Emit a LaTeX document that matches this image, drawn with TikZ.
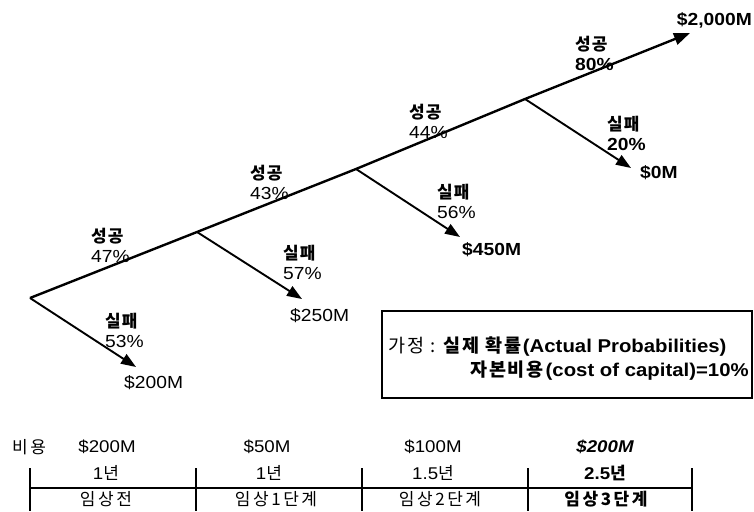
\documentclass[tikz,border=0pt]{standalone}
\usepackage{fontspec}
\setmainfont{Liberation Sans}[FakeStretch=1.1]
\newfontfamily\kr{Noto Sans CJK KR}[Scale=0.97,LetterSpace=6]
\newfontfamily\krbox{Noto Sans CJK KR}[LetterSpace=10]
\newfontfamily\krtab{Noto Sans CJK KR}[LetterSpace=15]
\usetikzlibrary{arrows.meta}
\tikzset{
  branch/.style={line width=2.4pt},
  fail/.style={line width=1.9pt,-{Triangle[length=15pt,width=11pt]}},
  lbl/.style={anchor=west,inner sep=0pt,align=left,font=\fontsize{17.5}{20}\selectfont},
  val/.style={anchor=west,inner sep=0pt,font=\fontsize{17.5}{20}\selectfont},
  boxtext/.style={anchor=west,inner sep=0pt,font=\fontsize{18.5}{20}\selectfont},
  ctr/.style={inner sep=0pt,font=\fontsize{17}{20}\selectfont},
  tick/.style={line width=1.8pt},
  boxline/.style={line width=2.2pt}
}
\begin{document}
\begin{tikzpicture}[x=1pt,y=-1pt]
\useasboundingbox (0,0) rectangle (754,511);
% tree points
\coordinate (s0) at (30,298);
\coordinate (b1) at (197,232);
\coordinate (b2) at (356,169);
\coordinate (b3) at (525,99);
\coordinate (e)  at (690,33);
\coordinate (f0) at (136,367);
\coordinate (f1) at (302,299);
\coordinate (f2) at (460,237);
\coordinate (f3) at (631,168);
\draw[branch,-{Triangle[length=16pt,width=12pt]}] (s0) -- (b1) -- (b2) -- (b3) -- (e);
\draw[fail] (s0) -- (f0);
\draw[fail] (b1) -- (f1);
\draw[fail] (b2) -- (f2);
\draw[fail] (b3) -- (f3);
% labels
\node[val,anchor=east] (v2000) at (752,20) {\bfseries \$2,000M};
\node[lbl] (l80) at (575,53) {{\kr\bfseries 성공}\\\bfseries 80\%};
\node[lbl] (l20) at (607,133) {{\kr\bfseries 실패}\\\bfseries 20\%};
\node[val] (v0) at (640,173) {\bfseries \$0M};
\node[lbl] (l44) at (409,121) {{\kr\bfseries 성공}\\44\%};
\node[lbl] (l56) at (437,201) {{\kr\bfseries 실패}\\56\%};
\node[val] (v450) at (462,250) {\bfseries \$450M};
\node[lbl] (l43) at (250,182) {{\kr\bfseries 성공}\\43\%};
\node[lbl] (l47) at (91,245) {{\kr\bfseries 성공}\\47\%};
\node[lbl] (l57) at (283,262) {{\kr\bfseries 실패}\\57\%};
\node[val] (v250) at (290,316) {\$250M};
\node[lbl] (l53) at (105,330) {{\kr\bfseries 실패}\\53\%};
\node[val] (v200) at (124,383) {\$200M};
% assumption box
\node[boxline,draw,minimum width=370pt,minimum height=87pt,anchor=north west,inner sep=0pt] (box) at (381,310) {};
\node[boxtext] (a1) at (388,347) {{\krbox 가정 : \bfseries 실제 확률}\textbf{(Actual Probabilities)}};
\node[boxtext] (a2) at (470,371) {{\krbox\bfseries 자본비용}\textbf{(cost of capital)=10\%}};
% bottom table
\node[ctr] (cost) at (29,447) {\krtab 비용};
\node[ctr] (c1) at (107,447) {\$200M};
\node[ctr] (c2) at (267,447) {\$50M};
\node[ctr] (c3) at (433,447) {\$100M};
\node[ctr] (c4) at (605,447) {\bfseries\itshape \$200M};
\node[ctr] (y1) at (106,473) {1{\krtab 년}};
\node[ctr] (y2) at (269,473) {1{\krtab 년}};
\node[ctr] (y3) at (433,473) {1.5{\krtab 년}};
\node[ctr] (y4) at (605,473) {\bfseries 2.5{\krtab 년}};
\node[ctr] (p1) at (106,499) {\krtab 임상전};
\node[ctr] (p2) at (276,499) {\krtab 임상1단계};
\node[ctr] (p3) at (440,499) {\krtab 임상2단계};
\node[ctr] (p4) at (606,499) {\krtab\bfseries 임상3단계};
\coordinate (t0a) at (30,468); \coordinate (t0b) at (30,511);
\coordinate (t1a) at (196,468); \coordinate (t1b) at (196,511);
\coordinate (t2a) at (362,468); \coordinate (t2b) at (362,511);
\coordinate (t3a) at (528,468); \coordinate (t3b) at (528,511);
\coordinate (t4a) at (692,468); \coordinate (t4b) at (692,511);
\coordinate (h0) at (30,488); \coordinate (h4) at (692,488);
\draw[tick] (t0a) -- (t0b);
\draw[tick] (t1a) -- (t1b);
\draw[tick] (t2a) -- (t2b);
\draw[tick] (t3a) -- (t3b);
\draw[tick] (t4a) -- (t4b);
\draw[tick] (h0) -- (h4);
\end{tikzpicture}
\end{document}
